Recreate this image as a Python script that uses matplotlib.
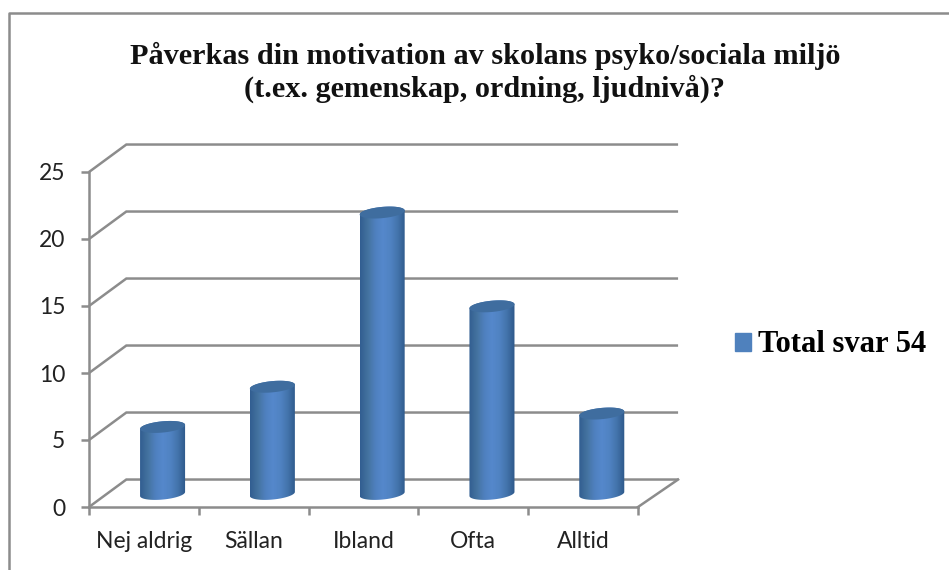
import numpy as np
from matplotlib import pyplot as plt
from matplotlib.colors import LinearSegmentedColormap
from matplotlib.lines import Line2D
from matplotlib.patches import Patch, Polygon

kategorier = ["Nej aldrig", "Sällan", "Ibland", "Ofta", "Alltid"]
svar = [5, 8, 21, 14, 6]
y_ticks = [0, 5, 10, 15, 20, 25]
titel = "Påverkas din motivation av skolans psyko/sociala miljö\n(t.ex. gemenskap, ordning, ljudnivå)?"
serie = "Total svar 54"

grid = "#8c8c8c"
W, H = 949, 570

fig = plt.figure(figsize=(W / 100, H / 100), dpi=100)
ax = fig.add_axes([89 / W, 1 - 507 / H, 549 / W, 335 / H])
ax.set_xlim(0, 5)
ax.set_ylim(0, 25)
ax.patch.set_alpha(0)

# ram runt diagrammet
fig.add_artist(Line2D([9 / W, 9 / W, 1], [0, 1 - 13 / H, 1 - 13 / H], color=grid, lw=1.8))

# axlar
for s in ["top", "right"]:
    ax.spines[s].set_visible(False)
for s in ["left", "bottom"]:
    ax.spines[s].set_color(grid)
    ax.spines[s].set_linewidth(1.8)
ax.set_yticks(y_ticks)
ax.set_xticks(range(len(kategorier) + 1))
ax.set_xticklabels([])
ax.set_xticks(np.arange(len(kategorier)) + 0.5, minor=True)
ax.set_xticklabels(kategorier, minor=True, family="Lato", fontsize=16.5, color="#222222")
ax.tick_params(axis="x", which="major", length=6, width=1.8, color=grid)
ax.tick_params(axis="x", which="minor", length=0, pad=17)
ax.tick_params(axis="y", length=6, width=1.8, color=grid, pad=11)
for t in ax.get_yticklabels():
    t.set_family("Lato")
    t.set_fontsize(16.5)
    t.set_color("#222222")

# 3d-vaggar, djupet i dataenheter
dx = 0.34
dy = 2.05
hoger = 5.365
for v in y_ticks:
    ax.plot([0, dx, hoger], [v, v + dy, v + dy], color=grid, lw=1.8, clip_on=False, zorder=1,
            solid_capstyle="butt", solid_joinstyle="miter")
ax.plot([5, hoger], [0, dy], color=grid, lw=1.8, clip_on=False, zorder=1)

# cylindrar
sida = LinearSegmentedColormap.from_list(
    "sida", ["#325e91", "#44739f", "#4f80bf", "#5588cc", "#5083c2", "#4373ab", "#2e598a"])
a = 0.205
b = 0.42
s = 0.15
t = np.linspace(0, 2 * np.pi, 120)
gradient = np.linspace(0, 1, 64).reshape(1, -1)
for i, v in enumerate(svar):
    xc = i + 0.5 + dx / 2
    y0 = dy / 2 - 0.05
    y1 = y0 + v
    tt = np.linspace(np.pi, 2 * np.pi, 60)
    under_x = xc + a * np.cos(tt)
    under_y = y0 + b * np.sin(tt) + s * np.cos(tt)
    tt2 = np.linspace(0, np.pi, 60)
    over_x = xc + a * np.cos(tt2)
    over_y = y1 + b * np.sin(tt2) + s * np.cos(tt2)
    kropp = Polygon(np.column_stack([np.r_[under_x, over_x], np.r_[under_y, over_y]]),
                    closed=True, transform=ax.transData)
    im = ax.imshow(gradient, cmap=sida, aspect="auto", zorder=3, interpolation="bilinear",
                   extent=[xc - a, xc + a, y0 - 1, y1 + 1])
    im.set_clip_path(kropp)
    ax.fill(xc + a * np.cos(t), y1 + b * np.sin(t) + s * np.cos(t), color="#3f6d9f", lw=0, zorder=4)
ax.set_xlim(0, 5)
ax.set_ylim(0, 25)

fig.text(485 / W, 1 - 72.5 / H, titel, ha="center", va="center", family="Liberation Serif",
         fontweight="bold", fontsize=21.8, color="#111111", linespacing=1.23)

fig.legend(handles=[Patch(color="#4f81bd", label=serie)], loc="center left",
           bbox_to_anchor=(735 / W, 1 - 345 / H), frameon=False, handlelength=0.52, handleheight=0.52,
           handletextpad=0.23, borderpad=0, borderaxespad=0,
           prop={"family": "Liberation Serif", "weight": "bold", "size": 22})

fig.savefig("out.png", dpi=100)
